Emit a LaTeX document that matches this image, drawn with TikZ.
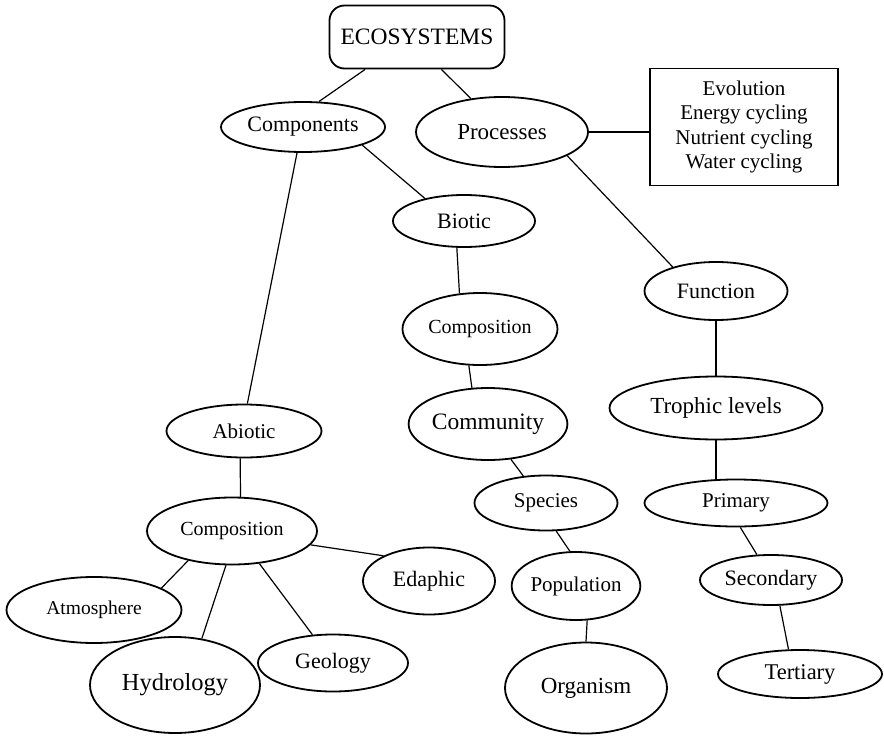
\documentclass[tikz,border=0pt]{standalone}
\usepackage{fontspec}
\setmainfont{Liberation Serif}
\usepackage{tikz}
\usetikzlibrary{shapes.geometric,positioning}

\begin{document}
\begin{tikzpicture}[x=1pt,y=-1pt]
\tikzset{
				oval/.style 2 args={
					draw,
					ellipse,
					line width=1.8pt,
					inner sep=0pt,
					minimum width=#1,
					minimum height=#2,
					font=\fontsize{22}{24}\selectfont
				},
				topbox/.style={
					draw,
					rounded corners=15pt,
					line width=1.8pt,
					minimum width=175pt,
					minimum height=63pt,
					font=\fontsize{23.5}{26}\selectfont
				},
				listbox/.style={
					draw,
					line width=1.6pt,
					minimum width=188pt,
					minimum height=117pt,
					align=center,
					font=\fontsize{21}{24.4}\selectfont
				},
				link/.style={line width=1.2pt}
			}
			\useasboundingbox (0,0) rectangle (884,736);
			\node[topbox] (eco) at (417,37) {ECOSYSTEMS};
			\node[oval={164pt}{50pt}] (comp) at (303,127) {Components};
			\node[oval={172pt}{70pt},font=\fontsize{23}{25}\selectfont] (proc) at (502,132) {Processes};
			\node[listbox] (procs) at (744,127) {Evolution\\ Energy cycling\\ Nutrient cycling\\ Water cycling};
			\node[oval={142pt}{52pt}] (biotic) at (464,221) {Biotic};
			\node[oval={155pt}{72pt},font=\fontsize{20}{22}\selectfont] (biocomp) at (480,329) {Composition};
			\node[oval={151pt}{72pt},font=\fontsize{23.5}{25}\selectfont] (community) at (488,424) {Community};
			\node[oval={143pt}{55pt},font=\fontsize{21}{23}\selectfont] (species) at (546,503) {Species};
			\node[oval={122pt}{68pt},font=\fontsize{21}{23}\selectfont] (population) at (576,586) {Population};
			\node[oval={162pt}{91pt},font=\fontsize{23}{25}\selectfont] (organism) at (586,688) {Organism};
			\node[oval={155pt}{53pt},font=\fontsize{21}{23}\selectfont] (abiotic) at (244,431) {Abiotic};
			\node[oval={170pt}{67pt},font=\fontsize{20}{22}\selectfont] (abiocomp) at (232,531) {Composition};
			\node[oval={175pt}{66pt},font=\fontsize{19.5}{21}\selectfont] (atmos) at (94,610) {Atmosphere};
			\node[oval={170pt}{96pt},font=\fontsize{24.5}{26}\selectfont] (hydro) at (175,685) {Hydrology};
			\node[oval={150pt}{57pt}] (geology) at (333,663) {Geology};
			\node[oval={132pt}{67pt}] (edaphic) at (429,581) {Edaphic};
			\node[oval={143pt}{58pt}] (function) at (716,291) {Function};
			\node[oval={213pt}{63pt},font=\fontsize{23}{25}\selectfont] (trophic) at (716,408) {Trophic levels};
			\node[oval={183pt}{47pt},font=\fontsize{21}{23}\selectfont] (primary) at (736,503) {Primary};
			\node[oval={142pt}{50pt}] (secondary) at (771,580) {Secondary};
			\node[oval={164pt}{48pt},font=\fontsize{22.5}{24}\selectfont] (tertiary) at (800,674) {Tertiary};
			
			\draw[link] (eco.-148) -- (comp.58);
			\draw[link] (eco.-53) -- (proc.133);
			\draw[link] (proc.east) -- (proc.east -| procs.west);
			\draw[link] (comp.-17) -- (biotic.150);
			\draw[link] (comp.-103) -- (abiotic.83);
			\draw[link] (proc.-20) -- (function.151);
			\draw[link] (biotic.-105) -- (biocomp.120);
			\draw[link] (biocomp.-107) -- (community.114);
			\draw[link] (community.-57) -- (species.130);
			\draw[link] (species.-70) -- (population.100);
			\draw[link] (population.-72) -- (organism.north);
			\draw[link] (function.south) -- (trophic.north);
			\draw[link] (trophic.south) -- (trophic.south |- primary.north);
			\draw[link] (primary.-80) -- (secondary.119);
			\draw[link] (secondary.-71) -- (tertiary.115);
			\draw[link] (abiotic.-98) -- (abiocomp.76);
			\draw[link] (abiocomp.-146) -- (atmos.18);
			\draw[link] (abiocomp.-100) -- (hydro.60);
			\draw[link] (abiocomp.-50) -- (geology.126);
			\draw[link] (abiocomp.-10) -- (edaphic.151);
\end{tikzpicture}
\end{document}
